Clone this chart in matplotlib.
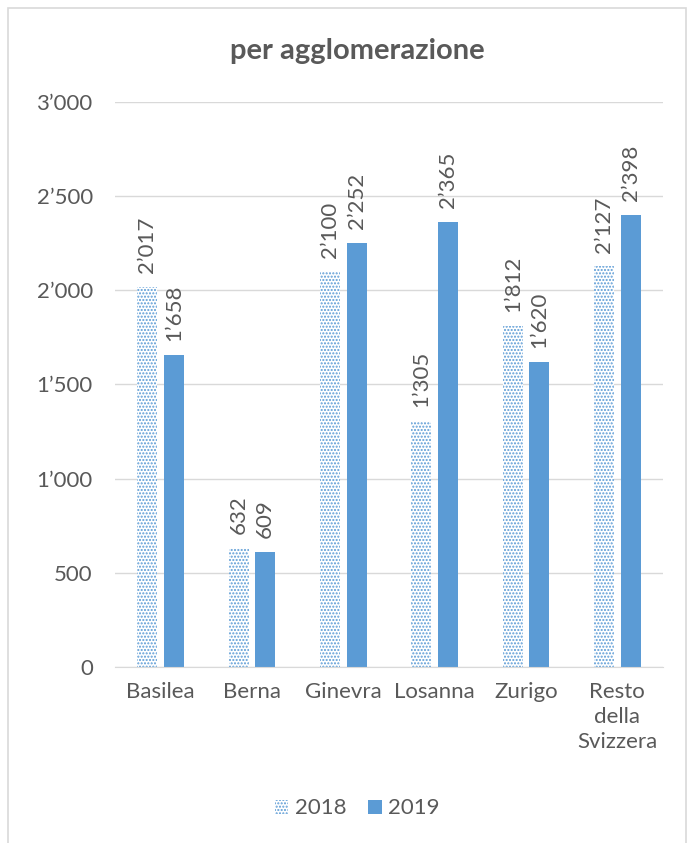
import numpy as np
import matplotlib
matplotlib.use("Agg")
import matplotlib.pyplot as plt
from matplotlib.patches import Rectangle

plt.rcParams['font.family'] = ['Lato', 'DejaVu Sans']

categories = ['Basilea', 'Berna', 'Ginevra', 'Losanna', 'Zurigo', 'Resto\ndella\nSvizzera']
v2018 = [2017, 632, 2100, 1305, 1812, 2127]
v2019 = [1658, 609, 2252, 2365, 1620, 2398]
years = ['2018', '2019']

blue = '#5B9BD5'
grey = '#595959'
fs = 16

def fmt(v):
        return '{:,}'.format(int(v)).replace(',', '\u2019')

fig = plt.figure(figsize=(6.99, 8.43), dpi=100)
ax = fig.add_axes([0.1645, 0.2088, 0.784, 0.6702])

x = np.arange(len(categories))
w = 0.22
gap = 0.035
b1 = ax.bar(x - w/2 - gap, v2018, w, facecolor='white', edgecolor=blue, hatch='.....', linewidth=0, label=years[0])
b2 = ax.bar(x + w/2 + gap, v2019, w, color=blue, linewidth=0, label=years[1])

for bars, vals in ((b1, v2018), (b2, v2019)):
        for r, v in zip(bars, vals):
                ax.annotate(fmt(v), (r.get_x() + r.get_width()/2, v), xytext=(0, 10), textcoords='offset points',
                            rotation=90, ha='center', va='bottom', fontsize=fs, color=grey)

ax.set_ylim(0, 3000)
ax.set_xlim(-0.5, len(categories) - 0.5)
ax.set_yticks(np.arange(0, 3001, 500))
ax.set_yticklabels([fmt(t) for t in np.arange(0, 3001, 500)])
ax.set_xticks(x)
ax.set_xticklabels(categories, linespacing=1.3)
ax.tick_params(length=0, labelsize=fs, colors=grey)
ax.tick_params(axis='y', pad=16)
ax.tick_params(axis='x', pad=11)
ax.grid(axis='y', color='#D9D9D9', linewidth=1)
ax.set_axisbelow(True)
for s in ('top', 'right', 'left'):
        ax.spines[s].set_visible(False)
ax.spines['bottom'].set_color('#D9D9D9')

fig.text(0.511, 0.94, 'per agglomerazione', ha='center', va='center', fontsize=21, fontweight='bold', color=grey)

leg = fig.legend(handles=[b1, b2], labels=years, loc='center', bbox_to_anchor=(0.511, 0.041), ncol=2, frameon=False,
                 fontsize=fs, handlelength=0.6, handleheight=0.6, handletextpad=0.3, columnspacing=1.0)
for t in leg.get_texts():
        t.set_color(grey)

fig.patches.append(Rectangle((8/699, -0.01), 678/699, 1 - 8/843 + 0.01, transform=fig.transFigure,
                             fill=False, edgecolor='#D9D9D9', linewidth=1.2))

fig.savefig('out.png', dpi=100)
